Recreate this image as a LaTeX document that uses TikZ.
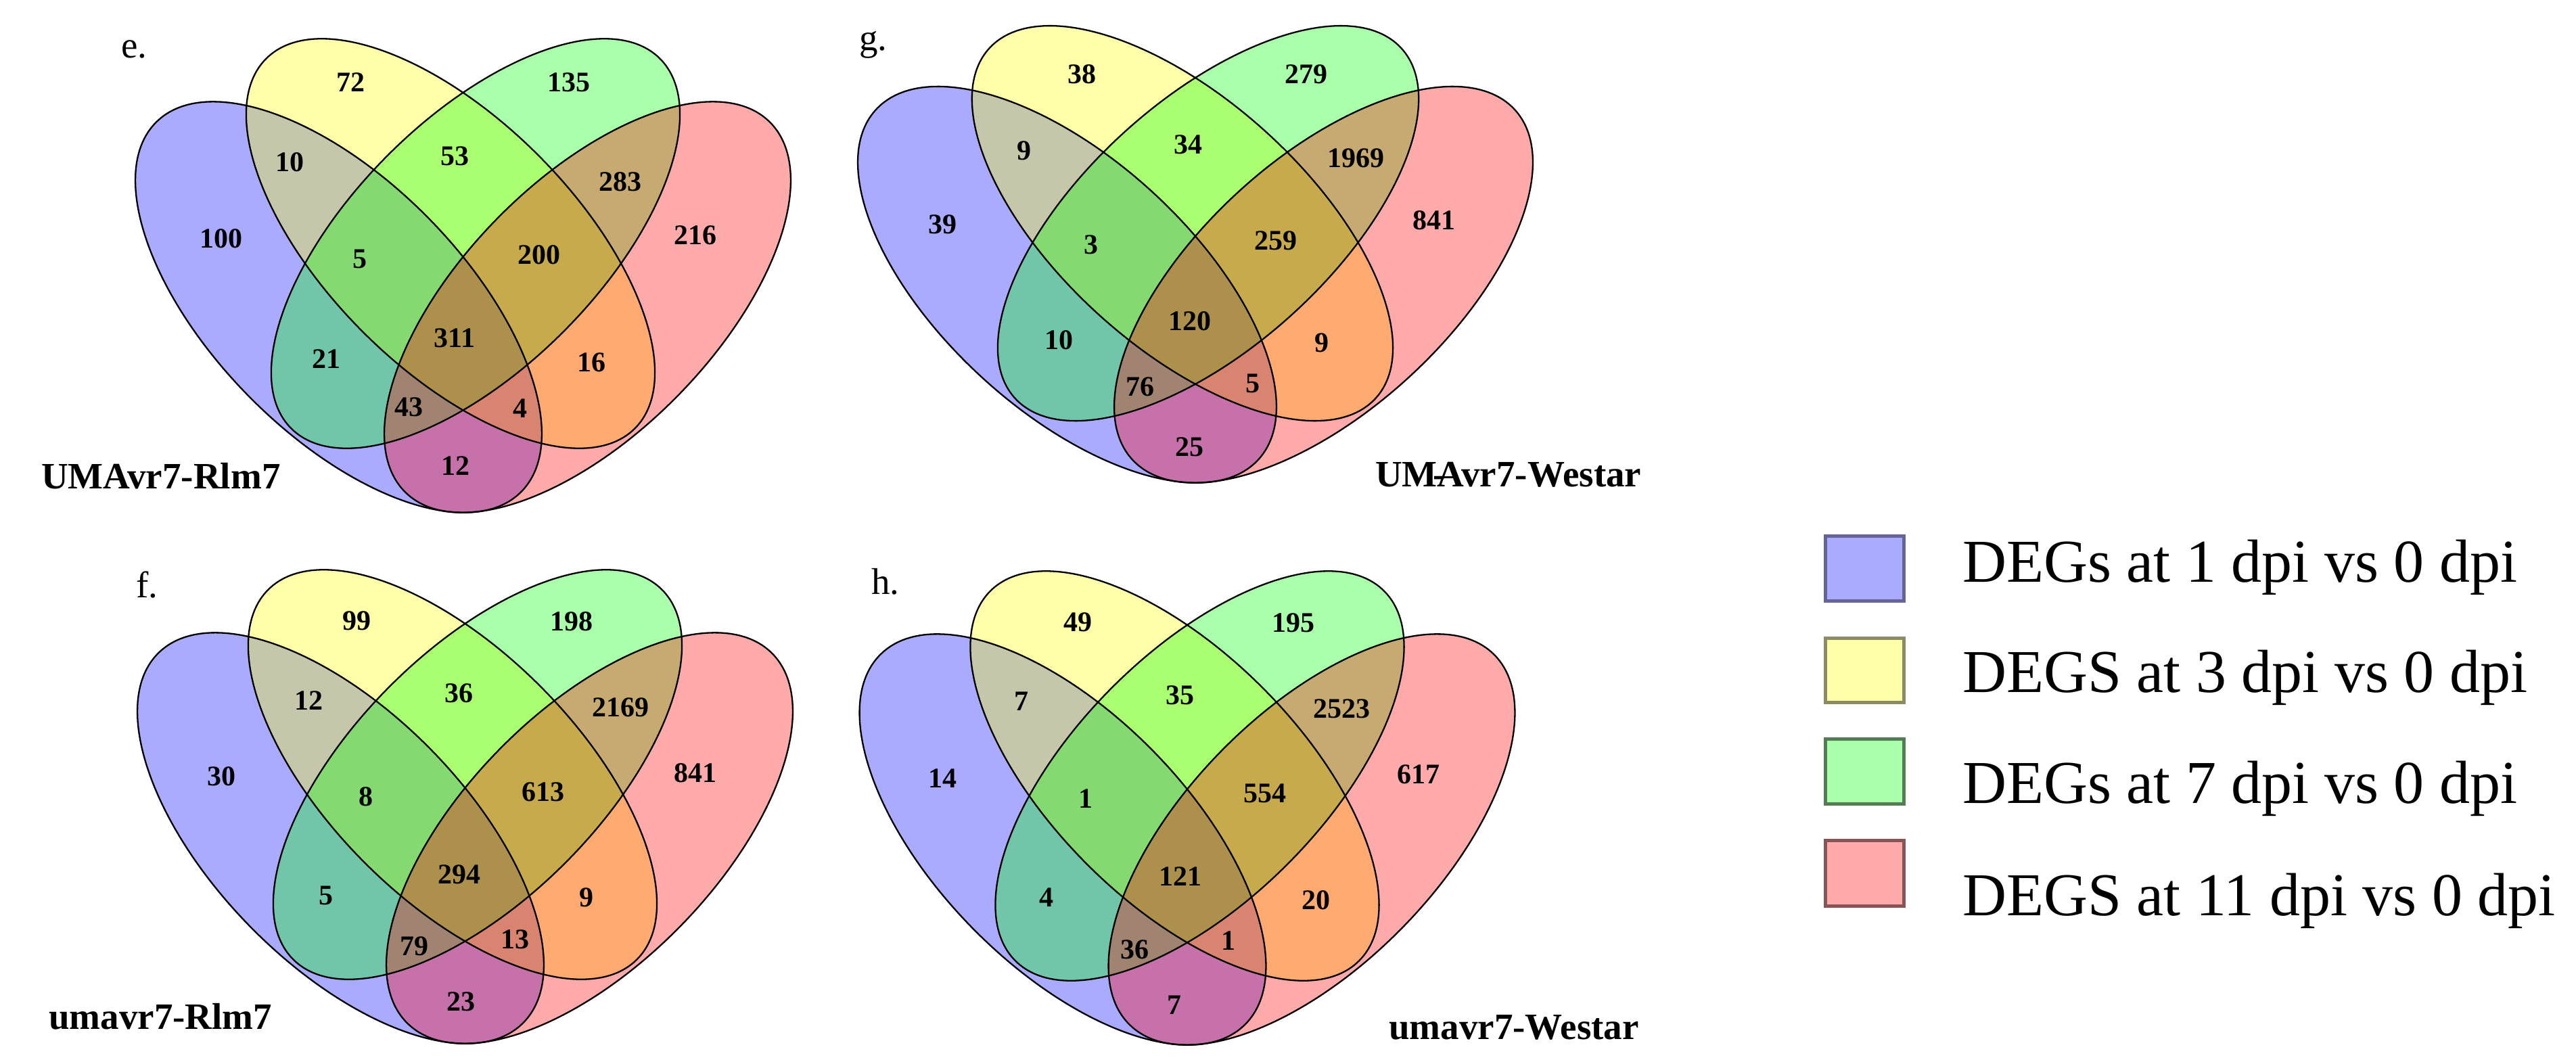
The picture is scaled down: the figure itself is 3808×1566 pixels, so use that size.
\documentclass[tikz,border=0pt]{standalone}
\usepackage{fontspec}
\setmainfont{Liberation Serif}
\definecolor{cB}{RGB}{0,0,255}
\definecolor{cY}{RGB}{255,255,0}
\definecolor{cG}{RGB}{0,255,0}
\definecolor{cR}{RGB}{255,0,0}
\definecolor{lB}{RGB}{170,170,255}
\definecolor{lY}{RGB}{255,255,170}
\definecolor{lG}{RGB}{170,255,170}
\definecolor{lR}{RGB}{255,170,170}
\definecolor{dB}{RGB}{100,100,150}
\definecolor{dY}{RGB}{140,140,100}
\definecolor{dG}{RGB}{85,125,85}
\definecolor{dR}{RGB}{135,85,85}
\tikzset{
  venfill/.style={fill opacity=0.3333, draw=none},
  venline/.style={draw=black, line width=2.3pt, fill=none},
  num/.style={font=\fontsize{42}{48}\selectfont\bfseries, inner sep=0pt, anchor=center},
  ttl/.style={font=\fontsize{55}{60}\selectfont\bfseries, inner sep=0pt, anchor=base west},
  plet/.style={font=\fontsize{55}{60}\selectfont, inner sep=0pt, anchor=base west},
  legtxt/.style={font=\fontsize{90}{100}\selectfont, inner sep=0pt, anchor=base west},
  legbox/.style={line width=5pt},
}
\newcommand{\vennshapes}[4]{%
  \begin{scope}[shift={(#1,#2)}, xscale=#3, yscale=#4]
    \fill[cB, venfill, shift={(-184,454)}, rotate=-45.5] (0,0) ellipse [x radius=384, y radius=187];
    \fill[cY, venfill, shift={(-18.5,360)}, rotate=-45.1] (0,0) ellipse [x radius=386, y radius=184];
    \fill[cG, venfill, shift={(18.5,360)}, rotate=45.1] (0,0) ellipse [x radius=386, y radius=184];
    \fill[cR, venfill, shift={(184,454)}, rotate=45.5] (0,0) ellipse [x radius=384, y radius=187];
    \draw[venline, shift={(-184,454)}, rotate=-45.5] (0,0) ellipse [x radius=384, y radius=187];
    \draw[venline, shift={(-18.5,360)}, rotate=-45.1] (0,0) ellipse [x radius=386, y radius=184];
    \draw[venline, shift={(18.5,360)}, rotate=45.1] (0,0) ellipse [x radius=386, y radius=184];
    \draw[venline, shift={(184,454)}, rotate=45.5] (0,0) ellipse [x radius=384, y radius=187];
  \end{scope}}
\begin{document}
\begin{tikzpicture}[x=1pt, y=-1pt]
\useasboundingbox (0,0) rectangle (3808,1566);
\fill[white] (0,0) rectangle (3808,1566);

% ---------- panels ----------
\vennshapes{684.5}{0}{1}{1}
\vennshapes{687.5}{785}{1}{1}
\vennshapes{1767}{-17.1}{1.03}{0.9645}
\vennshapes{1755}{787}{1}{1}

% ---------- panel e ----------
\node[plet] (le) at (179,85) {e.};
\node[ttl] (te) at (61,722) {UMAvr7-Rlm7};
\node[num] (e1) at (518,122) {72};
\node[num] (e2) at (841,122) {135};
\node[num] (e3) at (428,240) {10};
\node[num] (e4) at (672,231) {53};
\node[num] (e5) at (917,269) {283};
\node[num] (e6) at (327,353) {100};
\node[num] (e7) at (1028,348) {216};
\node[num] (e8) at (532,383) {5};
\node[num] (e9) at (797,377) {200};
\node[num] (e10) at (672,500) {311};
\node[num] (e11) at (482,531) {21};
\node[num] (e12) at (874,536) {16};
\node[num] (e13) at (604,602) {43};
\node[num] (e14) at (769,604) {4};
\node[num] (e15) at (673,689) {12};

% ---------- panel f ----------
\node[plet] (lf) at (201,883) {f.};
\node[ttl] (tf) at (72,1521) {umavr7-Rlm7};
\node[num] (f1) at (527,918) {99};
\node[num] (f2) at (845,919) {198};
\node[num] (f3) at (456,1036) {12};
\node[num] (f4) at (678,1025) {36};
\node[num] (f5) at (917,1046) {2169};
\node[num] (f6) at (327,1148) {30};
\node[num] (f7) at (1028,1143) {841};
\node[num] (f8) at (541,1178) {8};
\node[num] (f9) at (803,1171) {613};
\node[num] (f10) at (679,1293) {294};
\node[num] (f11) at (482,1324) {5};
\node[num] (f12) at (867,1327) {9};
\node[num] (f13) at (612,1399) {79};
\node[num] (f14) at (761,1389) {13};
\node[num] (f15) at (681,1481) {23};

% ---------- panel g ----------
\node[plet] (lg) at (1270,74) {g.};
\node[ttl] (tg) at (2033,719) {UM\rlap{\kern-0.12em-}Avr7-Westar};
\node[num] (g1) at (1599,110) {38};
\node[num] (g2) at (1931,110) {279};
\node[num] (g3) at (1514,223) {9};
\node[num] (g4) at (1756,214) {34};
\node[num] (g5) at (2004,234) {1969};
\node[num] (g6) at (1393,332) {39};
\node[num] (g7) at (2120,326) {841};
\node[num] (g8) at (1613,362) {3};
\node[num] (g9) at (1886,356) {259};
\node[num] (g10) at (1759,475) {120};
\node[num] (g11) at (1565,503) {10};
\node[num] (g12) at (1954,507) {9};
\node[num] (g13) at (1685,572) {76};
\node[num] (g14) at (1852,567) {5};
\node[num] (g15) at (1758,661) {25};

% ---------- panel h ----------
\node[plet] (lh) at (1288,878) {h.};
\node[ttl] (th) at (2053,1536) {umavr7-Westar};
\node[num] (h1) at (1593,920) {49};
\node[num] (h2) at (1912,921) {195};
\node[num] (h3) at (1510,1037) {7};
\node[num] (h4) at (1744,1028) {35};
\node[num] (h5) at (1983,1048) {2523};
\node[num] (h6) at (1393,1151) {14};
\node[num] (h7) at (2097,1145) {617};
\node[num] (h8) at (1605,1181) {1};
\node[num] (h9) at (1870,1173) {554};
\node[num] (h10) at (1745,1296) {121};
\node[num] (h11) at (1547,1327) {4};
\node[num] (h12) at (1945,1331) {20};
\node[num] (h13) at (1677,1404) {36};
\node[num] (h14) at (1816,1391) {1};
\node[num] (h15) at (1736,1486) {7};

% ---------- legend ----------
\draw[legbox, fill=lB, draw=dB] (2698,792) rectangle (2814,888);
\draw[legbox, fill=lY, draw=dY] (2698,943) rectangle (2814,1038);
\draw[legbox, fill=lG, draw=dG] (2698,1092) rectangle (2814,1188);
\draw[legbox, fill=lR, draw=dR] (2698,1242) rectangle (2814,1339);
\node[legtxt] (k1) at (2901,860) {DEGs at 1 dpi vs 0 dpi};
\node[legtxt] (k2) at (2901,1023) {DEGS at 3 dpi vs 0 dpi};
\node[legtxt] (k3) at (2901,1187) {DEGs at 7 dpi vs 0 dpi};
\node[legtxt] (k4) at (2901,1353) {DEGS at 11 dpi vs 0 dpi};
\end{tikzpicture}
\end{document}
